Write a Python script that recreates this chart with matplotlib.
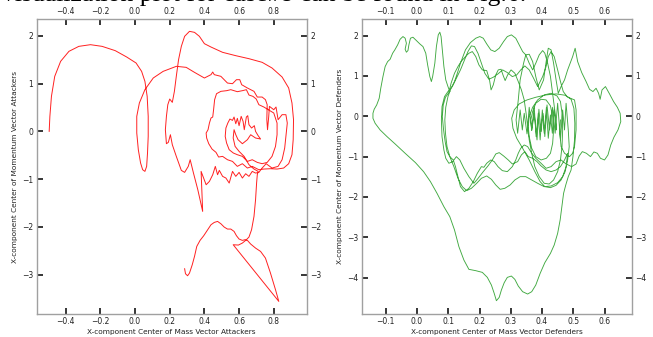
import matplotlib
matplotlib.use("Agg")
import matplotlib.pyplot as plt
import numpy as np

# ---------------- Attackers trajectory (x: CoM, y: CoMomentum) ----------------
att_arch = [(-0.495, 0.000), (-0.491, 0.314), (-0.482, 0.732), (-0.463, 1.151), (-0.429, 1.465),
            (-0.381, 1.674), (-0.324, 1.778), (-0.257, 1.813), (-0.190, 1.778), (-0.114, 1.688),
            (-0.048, 1.555), (0.006, 1.430), (0.038, 1.255), (0.057, 1.046), (0.070, 0.732),
            (0.076, 0.314), (0.076, -0.105), (0.072, -0.453), (0.067, -0.732), (0.057, -0.837),
            (0.044, -0.802), (0.032, -0.662), (0.019, -0.384), (0.010, -0.035), (0.010, 0.314),
            (0.025, 0.593), (0.057, 0.872), (0.105, 1.116), (0.162, 1.255), (0.238, 1.360),
            (0.295, 1.339), (0.343, 1.234), (0.400, 1.116)]
att_top = [(0.438, 1.186), (0.448, 1.241), (0.457, 1.186), (0.495, 1.151), (0.514, 1.081),
           (0.533, 1.011), (0.562, 0.997), (0.585, 1.081), (0.604, 1.081), (0.615, 0.976),
           (0.648, 0.907), (0.686, 0.837), (0.705, 0.718), (0.733, 0.718), (0.752, 0.663),
           (0.762, 0.558), (0.760, 0.244), (0.764, 0.035), (0.771, 0.314), (0.775, 0.523),
           (0.800, 0.453), (0.813, 0.509), (0.825, 0.244), (0.848, 0.349), (0.870, 0.349),
           (0.878, 0.174), (0.870, -0.105), (0.863, -0.349), (0.848, -0.593), (0.825, -0.732),
           (0.790, -0.767), (0.756, -0.676), (0.733, -0.767), (0.714, -0.858)]
att_bottom_row = [(0.695, -0.872), (0.676, -0.837), (0.657, -0.941), (0.638, -0.886), (0.619, -0.976),
                  (0.600, -0.858), (0.581, -0.941), (0.562, -0.837), (0.543, -1.081), (0.524, -0.976),
                  (0.505, -0.941), (0.486, -0.816), (0.476, -0.907), (0.463, -0.732), (0.448, -0.907),
                  (0.429, -1.046), (0.410, -1.116), (0.381, -0.837), (0.390, -1.674)]
att_outer = [(0.362, -1.220), (0.337, -0.872), (0.318, -0.593), (0.307, -0.732), (0.286, -0.858),
             (0.267, -0.816), (0.238, -0.523), (0.215, -0.279), (0.204, -0.070), (0.192, -0.230),
             (0.181, -0.258), (0.175, 0.035), (0.181, 0.314), (0.189, 0.558), (0.200, 0.676),
             (0.215, 0.607), (0.227, 0.837), (0.238, 1.151), (0.251, 1.499), (0.267, 1.778),
             (0.286, 1.988), (0.314, 2.092), (0.343, 2.071), (0.371, 1.988), (0.400, 1.834),
             (0.438, 1.764), (0.505, 1.653), (0.581, 1.583), (0.657, 1.520), (0.733, 1.444),
             (0.790, 1.325), (0.848, 1.137), (0.886, 0.907), (0.905, 0.593), (0.914, 0.244),
             (0.912, -0.174), (0.905, -0.488), (0.886, -0.676), (0.857, -0.767), (0.819, -0.788),
             (0.781, -0.781), (0.743, -0.788), (0.714, -0.802)]
att_rings = [(0.676, -0.732), (0.648, -0.767), (0.619, -0.676), (0.590, -0.732), (0.562, -0.628),
             (0.533, -0.593), (0.505, -0.523), (0.482, -0.537), (0.467, -0.439), (0.444, -0.370),
             (0.425, -0.258), (0.413, -0.139), (0.410, -0.035), (0.421, 0.035), (0.429, 0.174),
             (0.438, 0.279), (0.448, 0.300), (0.453, 0.453), (0.459, 0.663), (0.470, 0.788),
             (0.495, 0.837), (0.528, 0.851), (0.552, 0.872), (0.590, 0.830), (0.619, 0.851),
             (0.642, 0.872), (0.657, 0.760), (0.680, 0.732), (0.699, 0.676), (0.714, 0.558),
             (0.743, 0.509), (0.768, 0.453), (0.800, 0.384), (0.819, 0.174), (0.819, -0.070),
             (0.810, -0.314), (0.790, -0.523), (0.762, -0.649), (0.733, -0.676), (0.705, -0.649),
             (0.676, -0.593), (0.648, -0.628), (0.619, -0.523), (0.590, -0.488), (0.567, -0.453),
             (0.543, -0.384), (0.528, -0.244), (0.520, -0.105), (0.524, 0.070), (0.535, 0.174),
             (0.547, 0.258), (0.562, 0.230), (0.571, 0.300), (0.581, 0.160), (0.590, 0.272),
             (0.600, 0.119), (0.612, 0.314), (0.623, 0.209), (0.630, 0.035), (0.642, 0.300),
             (0.650, 0.328), (0.657, 0.139), (0.672, 0.070), (0.688, 0.119), (0.695, 0.000),
             (0.710, -0.091), (0.724, -0.160), (0.695, -0.139), (0.667, -0.070), (0.648, -0.174),
             (0.619, -0.258), (0.594, -0.174), (0.581, -0.070), (0.571, 0.035), (0.566, -0.139),
             (0.577, -0.314), (0.600, -0.418), (0.629, -0.523), (0.657, -0.697), (0.686, -0.788),
             (0.710, -0.837)]
att_descent = [(0.705, -0.907), (0.701, -1.081), (0.695, -1.430), (0.686, -1.778), (0.672, -2.057),
               (0.657, -2.211), (0.638, -2.280), (0.619, -2.336), (0.596, -2.378), (0.566, -2.371),
               (0.829, -3.556), (0.810, -3.312), (0.781, -2.964), (0.752, -2.650), (0.724, -2.511),
               (0.695, -2.441), (0.667, -2.357), (0.648, -2.280), (0.634, -2.266), (0.619, -2.280),
               (0.600, -2.252), (0.585, -2.183), (0.571, -2.092), (0.552, -2.043), (0.533, -2.043),
               (0.514, -2.001), (0.495, -1.932), (0.476, -1.883), (0.457, -1.904), (0.438, -1.953),
               (0.419, -2.057), (0.396, -2.183), (0.375, -2.280), (0.356, -2.406), (0.343, -2.615),
               (0.330, -2.789), (0.314, -2.964), (0.303, -3.020), (0.291, -2.978), (0.286, -2.873)]

# ---------------- Defenders trajectory ----------------
def_outline = [(0.105, 0.612), (0.099, 0.736), (0.092, 0.901), (0.086, 1.232), (0.081, 1.645),
               (0.077, 1.975), (0.073, 2.083), (0.068, 2.017), (0.062, 1.727), (0.057, 1.314),
               (0.050, 0.983), (0.046, 0.860), (0.041, 0.983), (0.034, 1.273), (0.028, 1.562),
               (0.019, 1.727), (0.009, 1.793), (-0.002, 1.876), (-0.013, 1.959), (-0.021, 1.934),
               (-0.026, 1.769), (-0.029, 1.628), (-0.034, 1.587), (-0.038, 1.661), (-0.034, 1.810),
               (-0.038, 1.934), (-0.045, 1.975), (-0.054, 1.909), (-0.062, 1.769), (-0.071, 1.645),
               (-0.078, 1.562), (-0.086, 1.413), (-0.094, 1.355), (-0.102, 1.231), (-0.109, 0.983),
               (-0.116, 0.694), (-0.121, 0.446), (-0.129, 0.281), (-0.137, 0.174), (-0.141, 0.074),
               (-0.141, -0.050), (-0.134, -0.174), (-0.118, -0.339), (-0.096, -0.504), (-0.070, -0.686),
               (-0.038, -0.917), (-0.005, -1.149), (0.021, -1.372), (0.043, -1.620), (0.064, -1.909),
               (0.086, -2.240), (0.105, -2.488), (0.120, -2.818), (0.134, -3.231), (0.150, -3.562),
               (0.166, -3.793), (0.188, -3.826), (0.209, -3.868), (0.225, -3.992), (0.238, -4.182),
               (0.247, -4.388), (0.254, -4.570), (0.263, -4.488), (0.270, -4.306), (0.279, -4.124),
               (0.289, -3.992), (0.302, -3.959), (0.313, -4.041), (0.324, -4.207), (0.338, -4.347),
               (0.354, -4.405), (0.367, -4.347), (0.380, -4.182), (0.394, -3.893), (0.409, -3.628),
               (0.427, -3.397), (0.439, -3.190), (0.450, -2.901), (0.458, -2.570), (0.464, -2.198),
               (0.469, -1.909), (0.476, -1.702), (0.484, -1.496), (0.493, -1.331)]
def_cluster = [(0.499, -1.000), (0.504, -0.587), (0.505, -0.174), (0.502, 0.198), (0.493, 0.421),
               (0.474, 0.521), (0.445, 0.554), (0.413, 0.529), (0.380, 0.471), (0.352, 0.405),
               (0.327, 0.306), (0.311, 0.157), (0.303, -0.050), (0.307, -0.298), (0.319, -0.545),
               (0.338, -0.793), (0.359, -1.083), (0.377, -1.372), (0.394, -1.620), (0.409, -1.744),
               (0.427, -1.769), (0.445, -1.711), (0.461, -1.579), (0.474, -1.372), (0.482, -1.083),
               (0.487, -0.752), (0.484, -0.339), (0.477, 0.322), (0.472, -0.339), (0.466, 0.157),
               (0.459, -0.587), (0.450, 0.322), (0.442, -0.421), (0.434, 0.223), (0.424, -0.339),
               (0.416, 0.281), (0.409, -0.504), (0.403, 0.074), (0.397, -0.380), (0.390, 0.174),
               (0.384, -0.587), (0.375, 0.074), (0.367, -0.355), (0.359, 0.223), (0.352, -0.438),
               (0.343, 0.074), (0.337, -0.339), (0.330, 0.157), (0.322, -0.421), (0.317, -0.091)]
def_right = [(0.324, 0.405), (0.330, 0.901), (0.341, 1.314), (0.348, 1.521), (0.359, 1.537),
             (0.370, 1.355), (0.380, 0.983), (0.391, 0.653), (0.405, 0.901), (0.414, 1.397),
             (0.420, 1.686), (0.429, 1.645), (0.437, 1.314), (0.445, 0.901), (0.452, 0.570),
             (0.461, 0.736), (0.472, 0.901), (0.482, 1.149), (0.498, 1.479), (0.506, 1.686),
             (0.514, 1.355), (0.527, 1.083), (0.541, 0.860), (0.552, 0.669), (0.563, 0.612),
             (0.573, 0.694), (0.581, 0.570), (0.586, 0.421), (0.592, 0.653), (0.603, 0.736),
             (0.616, 0.554), (0.629, 0.364), (0.641, 0.223), (0.650, 0.074), (0.652, -0.132),
             (0.643, -0.339), (0.630, -0.521), (0.620, -0.711), (0.611, -0.959), (0.600, -1.083),
             (0.587, -1.041), (0.577, -0.917), (0.566, -0.884), (0.555, -1.000), (0.542, -0.917),
             (0.529, -0.876), (0.519, -0.983), (0.509, -1.182), (0.495, -1.248), (0.477, -1.182),
             (0.461, -1.083), (0.445, -1.124), (0.429, -1.248), (0.413, -1.289), (0.397, -1.165),
             (0.380, -1.041), (0.367, -0.917), (0.354, -0.752), (0.343, -0.711), (0.332, -0.793),
             (0.324, -0.917), (0.316, -1.083), (0.305, -1.248), (0.289, -1.372), (0.273, -1.347),
             (0.259, -1.248), (0.247, -1.124), (0.236, -1.083), (0.223, -1.165), (0.214, -1.264),
             (0.206, -1.248)]
def_mid_left = [(0.193, -1.413), (0.180, -1.620), (0.166, -1.785), (0.152, -1.868), (0.139, -1.744),
                (0.131, -1.496), (0.123, -1.248), (0.116, -1.083), (0.105, -1.000), (0.096, -0.876),
                (0.090, -0.628), (0.085, -0.339), (0.081, -0.008), (0.084, 0.281), (0.091, 0.471),
                (0.102, 0.587)]
def_mid_upper = [(0.109, 0.818), (0.120, 1.066), (0.131, 1.231), (0.141, 1.355), (0.155, 1.479),
                 (0.166, 1.562), (0.177, 1.603), (0.188, 1.479), (0.198, 1.273), (0.209, 1.149),
                 (0.223, 1.132), (0.232, 0.901), (0.237, 0.653), (0.244, 0.777), (0.252, 1.025),
                 (0.260, 1.149), (0.269, 1.165), (0.275, 1.025), (0.282, 0.884), (0.290, 1.025),
                 (0.301, 1.149), (0.313, 1.066), (0.324, 0.860), (0.334, 0.653), (0.343, 0.405),
                 (0.349, 0.074), (0.354, -0.256), (0.359, -0.587), (0.367, -0.917), (0.377, -1.248),
                 (0.391, -1.496), (0.407, -1.661), (0.423, -1.678), (0.437, -1.579), (0.450, -1.372),
                 (0.459, -1.083), (0.464, -0.752), (0.466, -0.339), (0.464, 0.074), (0.459, 0.364),
                 (0.448, 0.504), (0.429, 0.570), (0.407, 0.529), (0.386, 0.405), (0.370, 0.223),
                 (0.359, -0.008), (0.356, -0.256), (0.359, -0.504)]
def_inner = [(0.367, -0.793), (0.380, -1.000), (0.397, -1.083), (0.414, -1.041), (0.427, -0.917),
             (0.434, -0.669), (0.437, -0.339), (0.434, -0.008), (0.427, 0.256), (0.413, 0.405),
             (0.397, 0.421), (0.380, 0.322), (0.370, 0.116), (0.364, -0.091), (0.367, -0.339),
             (0.375, 0.240), (0.381, -0.504), (0.388, 0.074), (0.394, -0.587), (0.401, 0.157),
             (0.407, -0.421), (0.414, 0.223), (0.420, -0.545), (0.427, 0.033), (0.433, -0.421),
             (0.439, 0.157), (0.446, -0.339)]
def_top_wave = [(0.442, 0.074), (0.434, 0.570), (0.427, 0.983), (0.418, 1.314), (0.409, 1.562),
                (0.402, 1.628), (0.391, 1.521), (0.380, 1.314), (0.370, 1.149), (0.359, 1.314),
                (0.348, 1.521), (0.338, 1.603), (0.327, 1.769), (0.316, 1.934), (0.302, 2.017),
                (0.289, 1.975), (0.277, 1.851), (0.263, 1.686), (0.249, 1.603), (0.236, 1.645),
                (0.223, 1.793), (0.212, 1.934), (0.201, 1.975), (0.188, 1.934), (0.171, 1.826),
                (0.155, 1.645), (0.139, 1.314), (0.129, 1.066), (0.120, 0.860), (0.109, 0.694),
                (0.099, 0.488), (0.092, 0.223), (0.089, -0.091), (0.091, -0.421), (0.096, -0.752),
                (0.105, -1.000), (0.118, -1.248), (0.131, -1.537), (0.145, -1.744), (0.159, -1.843),
                (0.174, -1.785), (0.191, -1.661), (0.206, -1.537), (0.223, -1.479), (0.238, -1.562),
                (0.252, -1.702), (0.266, -1.810), (0.281, -1.785), (0.298, -1.702), (0.313, -1.579),
                (0.330, -1.496), (0.348, -1.496), (0.367, -1.579), (0.386, -1.661), (0.407, -1.744),
                (0.429, -1.727), (0.450, -1.645), (0.466, -1.496), (0.477, -1.248), (0.482, -0.917)]
def_low_wave = [(0.472, -1.083), (0.459, -1.248), (0.445, -1.331), (0.429, -1.372), (0.413, -1.331),
                (0.397, -1.231), (0.384, -1.124), (0.370, -1.041), (0.356, -1.000), (0.345, -0.876),
                (0.334, -0.959), (0.322, -1.124), (0.305, -1.182), (0.292, -1.083), (0.277, -0.983),
                (0.263, -0.901), (0.252, -0.934), (0.241, -1.083), (0.227, -1.231), (0.212, -1.372),
                (0.193, -1.562), (0.182, -1.661), (0.166, -1.496), (0.150, -1.289), (0.137, -1.083),
                (0.126, -1.000), (0.114, -1.124), (0.102, -1.165), (0.092, -1.041), (0.086, -0.835)]
def_second_upper = [(0.080, -0.504), (0.078, -0.091), (0.080, 0.240), (0.088, 0.488), (0.099, 0.612),
                    (0.113, 0.736), (0.126, 0.942), (0.139, 1.149), (0.150, 1.355), (0.163, 1.603),
                    (0.174, 1.744), (0.184, 1.727), (0.195, 1.562), (0.206, 1.314), (0.217, 1.066),
                    (0.230, 0.917), (0.244, 0.967), (0.259, 1.050), (0.274, 1.149), (0.289, 1.083),
                    (0.305, 0.983), (0.319, 1.025), (0.332, 1.149), (0.345, 1.248), (0.359, 1.149),
                    (0.373, 0.942), (0.386, 0.736)]
def_end = [(0.402, 0.983), (0.413, 1.231), (0.420, 1.479), (0.429, 1.603), (0.439, 1.479),
           (0.450, 1.149), (0.459, 0.860), (0.468, 0.612), (0.480, 0.488), (0.491, 0.446),
           (0.504, 0.405), (0.509, 0.157), (0.509, -0.339), (0.504, -0.752), (0.498, -0.917),
           (0.488, -1.000), (0.472, -0.917), (0.461, -0.752), (0.457, -0.421), (0.459, -0.091)]

att_segments = [att_arch, att_top, att_bottom_row, att_outer, att_rings, att_descent]
def_segments = [def_outline, def_cluster, def_right, def_mid_left, def_mid_upper, def_inner,
                def_top_wave, def_low_wave, def_second_upper, def_end]

att_xticks = [-0.4, -0.2, 0.0, 0.2, 0.4, 0.6, 0.8]
att_yticks = [-3, -2, -1, 0, 1, 2]
def_xticks = [-0.1, 0.0, 0.1, 0.2, 0.3, 0.4, 0.5, 0.6]
def_yticks = [-4, -3, -2, -1, 0, 1, 2]

att_xlabel = "X-component Center of Mass Vector Attackers"
att_ylabel = "X-component Center of Momentum Vector Attackers"
def_xlabel = "X-component Center of Mass Vector Defenders"
def_ylabel = "X-component Center of Momentum Vector Defenders"
caption = "visualization plot for case#8 can be found in Fig.6."


def join(segs):
    pts = [p for s in segs for p in s]
    return [p[0] for p in pts], [p[1] for p in pts]


fig = plt.figure(figsize=(6.53, 3.37), dpi=100)
ax1 = fig.add_axes([0.0562, 0.0682, 0.4135, 0.8754])
ax2 = fig.add_axes([0.5539, 0.0682, 0.4135, 0.8754])

ax_x, ax_y = join(att_segments)
ax1.plot(ax_x, ax_y, color="#ff2020", lw=0.7)
dx, dy = join(def_segments)
ax2.plot(dx, dy, color="#1f9a1f", lw=0.65, alpha=0.85)

ax1.set_xlim(-0.567, 0.99)
ax1.set_ylim(-3.82, 2.35)
ax2.set_xlim(-0.177, 0.687)
ax2.set_ylim(-4.9, 2.41)

for ax, xt, yt, xl, yl in [(ax1, att_xticks, att_yticks, att_xlabel, att_ylabel),
                           (ax2, def_xticks, def_yticks, def_xlabel, def_ylabel)]:
    ax.set_xticks(xt)
    ax.set_yticks(yt)
    ax.set_xticklabels([f"{v:.1f}".replace("-", "\u2212") for v in xt])
    ax.set_yticklabels([f"{v:d}".replace("-", "\u2212") for v in yt])
    ax.tick_params(which="both", direction="in", top=True, right=True, labeltop=True,
                   labelright=True, length=4.5, width=1.1, labelsize=5.5, pad=2.5,
                   color="black", labelcolor="#222222")
    for s in ax.spines.values():
        s.set_color("#a0a0a0")
        s.set_linewidth(1.0)
    ax.set_xlabel(xl, fontsize=5.3, labelpad=2, color="#222222")
    ax.set_ylabel(yl, fontsize=5.3, labelpad=3, color="#222222")

fig.text(0.003, 0.998, caption, family="Liberation Serif", fontsize=18.5, va="baseline", ha="left")

fig.savefig("out.png", dpi=100)
